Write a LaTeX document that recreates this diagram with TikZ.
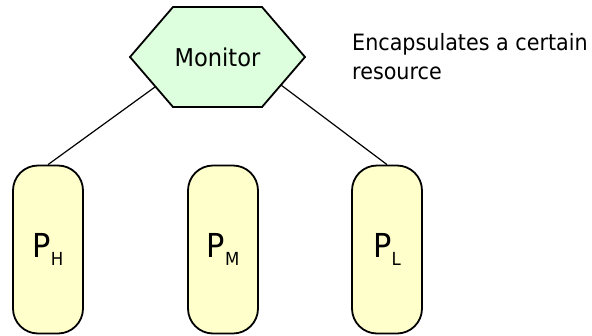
\documentclass[tikz,border=0pt]{standalone}
\usepackage{fontspec}
\setmainfont{DejaVu Sans}[FakeStretch=0.92]
\usetikzlibrary{shapes.symbols,calc}
\definecolor{hexfill}{HTML}{DDFFDD}
\definecolor{pillfill}{HTML}{FFFFCC}
\newcommand{\procname}[1]{{\fontsize{33}{33}\selectfont P}\raisebox{-8pt}{\fontsize{18}{18}\selectfont #1}}
\tikzset{
  monitorbox/.style={shape=signal, signal to=west and east, signal pointer angle=98.6,
    draw, line width=1.8pt, fill=hexfill, minimum width=175pt, minimum height=100pt,
    inner sep=0pt, font=\fontsize{24.5}{24.5}\selectfont},
  procbox/.style={draw, line width=1.8pt, fill=pillfill, rounded corners=25pt,
    minimum width=70pt, minimum height=168pt, inner sep=0pt},
  link/.style={line width=1.2pt},
  note/.style={align=left, anchor=north west, inner sep=0pt,
    font=\fontsize{22.5}{29}\selectfont}
}
\begin{document}
\begin{tikzpicture}[x=1pt,y=-1pt]
  \useasboundingbox (0,0) rectangle (592,335);
  % monitor and the three processes
  \node[monitorbox] (mon) at (217.5,57) {Monitor};
  \node[procbox] (pH) at (48,249.5) {\procname{H}};
  \node[procbox] (pM) at (223,249.5) {\procname{M}};
  \node[procbox] (pL) at (387,249.5) {\procname{L}};
  % points on the lower slanted edges where the links leave the monitor
  \coordinate (monL) at ($(mon.center)+(-62.5pt,-30pt)$);
  \coordinate (monR) at ($(mon.center)+(63.5pt,-28pt)$);
  \draw[link] (monL) -- (pH.north);
  \draw[link] (monR) -- (pL.north);
  % annotation
  \node[note] (txt) at (352,33.5) {Encapsulates a certain\\resource};
\end{tikzpicture}
\end{document}
